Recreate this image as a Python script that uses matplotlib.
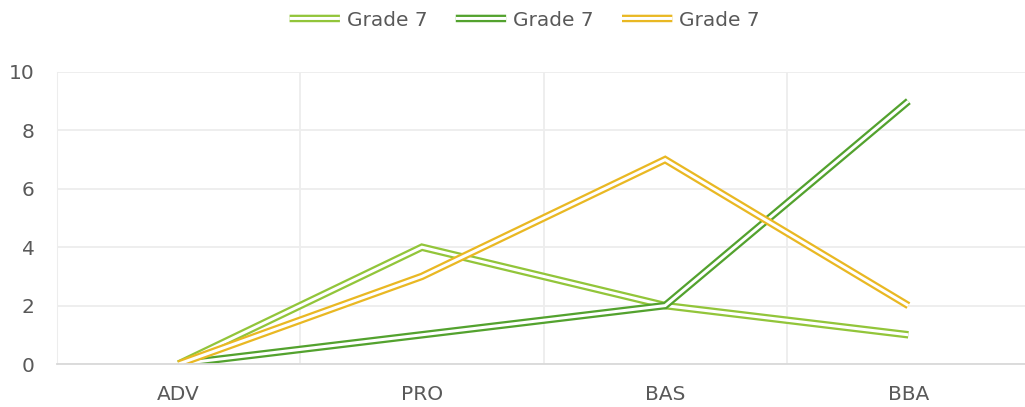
import matplotlib
matplotlib.use("Agg")
import matplotlib.pyplot as plt
import matplotlib.patheffects as pe

categories = ["ADV", "PRO", "BAS", "BBA"]
series_labels = ["Grade 7", "Grade 7", "Grade 7"]
light_green = [0, 4, 2, 1]
dark_green = [0, 1, 2, 9]
orange = [0, 3, 7, 2]
yticks = [0, 2, 4, 6, 8, 10]

colors = ["#92C53A", "#53A22E", "#E9B823"]
series = [light_green, dark_green, orange]

plt.rcParams['font.family'] = ['DejaVu Sans']
text_color = "#595959"

fig = plt.figure(figsize=(10.25, 4.07), dpi=100)
ax = fig.add_axes([57/1025, 1-364/407, (1030-57)/1025, (364-72)/407])

x = [i + 0.5 for i in range(len(categories))]
px = 72/100
for vals, c, lab in zip(series, colors, series_labels):
    ax.plot(x, vals, color=c, lw=7.5*px, label=lab, solid_joinstyle='miter',
            solid_capstyle='butt',
            path_effects=[pe.Stroke(linewidth=7.5*px, foreground=c),
                          pe.Stroke(linewidth=3*px, foreground='white')])

ax.set_xlim(0, len(categories))
ax.set_ylim(0, 10)
ax.set_yticks(yticks)
ax.set_xticks(x)
ax.set_xticklabels(categories)
ax.set_xticks(range(len(categories)+1), minor=True)
ax.grid(True, axis='y', color='#EDEDED', lw=1.3)
ax.grid(True, axis='x', which='minor', color='#EDEDED', lw=1.3)
ax.set_axisbelow(True)
for s in ['top', 'right']:
    ax.spines[s].set_visible(False)
ax.spines['left'].set_color('#EDEDED')
ax.spines['bottom'].set_color('#D9D9D9')
ax.spines['bottom'].set_linewidth(1.3)
ax.tick_params(axis='both', which='both', length=0, labelsize=14.5, colors=text_color)
ax.tick_params(axis='x', pad=15)
ax.tick_params(axis='y', pad=16)

leg = fig.legend(loc='center', bbox_to_anchor=(0.512, 1-20/407), ncol=3, frameon=False,
                 fontsize=14.5, handlelength=2.5, columnspacing=1.4, handletextpad=0.35,
                 labelcolor=text_color)
for h in leg.get_lines():
    h.set_snap(False)
fig.savefig("out.png", dpi=100)
